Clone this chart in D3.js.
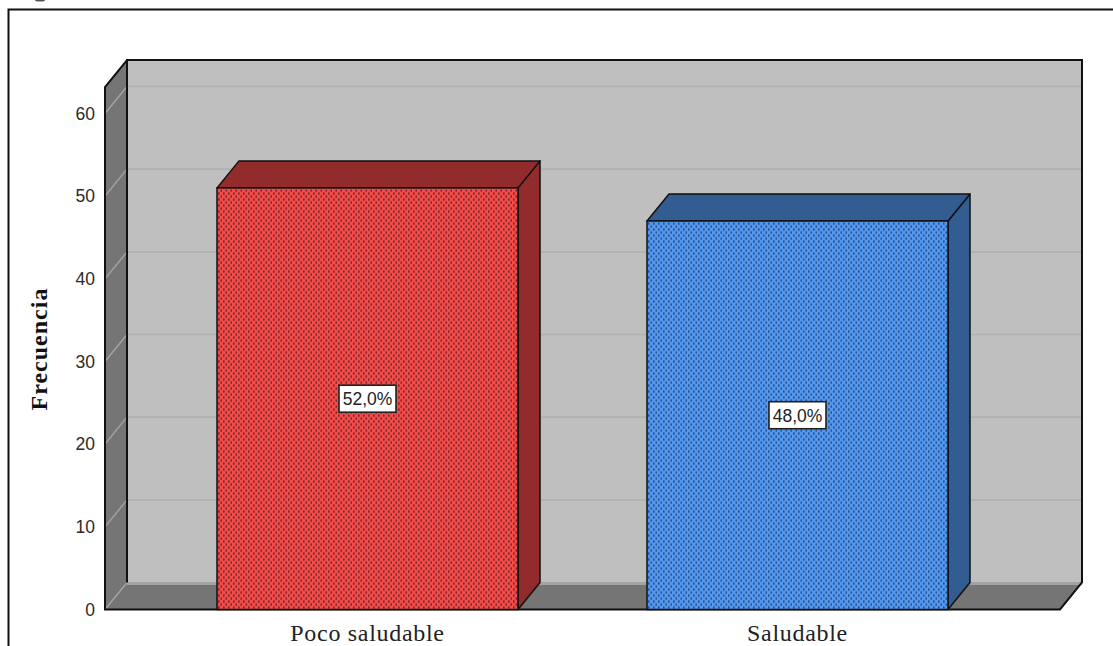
<!DOCTYPE html>
<html lang="es">
<head>
<meta charset="utf-8">
<title>Frecuencia</title>
<script src="https://cdn.jsdelivr.net/npm/d3@7/dist/d3.min.js"></script>
<style>
html,body{margin:0;padding:0;background:#fff;overflow:hidden}
svg{display:block}
</style>
</head>
<body>
<div id="chart"></div>
<script>
// Frequencies per category and the percentage printed on each bar
const categories = ["Poco saludable", "Saludable"];
const frequencies = [51, 47];
const percentLabels = ["52,0%", "48,0%"];
const barFills = ["#f54a4a", "#5298f0"];
const barDots = ["#7a2828", "#2a5288"];
const barSides = ["#922c2c", "#335c91"];
const yTicks = [0, 10, 20, 30, 40, 50, 60];
const yAxisTitle = "Frecuencia";

const W = 1113, H = 646;
const depthX = 22, depthY = -27;
const x0 = 105, x1 = 1060, yBase = 609.5, yTicksTop = 113.5, wallTopValue = 63.2;

const svg = d3.select("#chart").append("svg").attr("width", W).attr("height", H);

const y = d3.scaleLinear().domain([0, 60]).range([yBase, yTicksTop]);
const x = d3.scaleBand().domain(categories).range([x0, x1]).paddingInner(0.3).paddingOuter(0.2605);
const pts = a => a.map(p => p.join(",")).join(" ");

// Stippled fills for the bar fronts
const defs = svg.append("defs");
categories.forEach((c, i) => {
  const p = defs.append("pattern").attr("id", "dots" + i).attr("patternUnits", "userSpaceOnUse")
    .attr("width", 5).attr("height", 6).attr("x", x(c));
  p.append("rect").attr("width", 5).attr("height", 6).attr("fill", barFills[i]);
  p.append("rect").attr("x", 1).attr("y", 0.4).attr("width", 1.6).attr("height", 2.3).attr("fill", barDots[i]);
  p.append("rect").attr("x", 3.5).attr("y", 3.4).attr("width", 1.5).attr("height", 2.3).attr("fill", barDots[i]);
});

// Foot of a glyph from the line above the frame, at the page edge
svg.append("ellipse").attr("cx", 40).attr("cy", 0).attr("rx", 5).attr("ry", 1.5).attr("fill", "#555");

// Outer frame, open on the right and at the bottom
svg.append("path").attr("d", `M8.5,${H}V9.5H${W}`).attr("fill", "none").attr("stroke", "#111").attr("stroke-width", 2);

const yTop = y(wallTopValue);

// Back wall, side wall and floor
svg.append("rect").attr("x", x0 + depthX).attr("y", yTop + depthY).attr("width", x1 - x0)
  .attr("height", yBase - yTop).attr("fill", "#bfbfbf");
svg.append("polygon").attr("fill", "#757575")
  .attr("points", pts([[x0, yTop], [x0 + depthX, yTop + depthY], [x0 + depthX, yBase + depthY], [x0, yBase]]));
svg.append("polygon").attr("fill", "#757575")
  .attr("points", pts([[x0, yBase], [x0 + depthX, yBase + depthY], [x1 + depthX, yBase + depthY], [x1, yBase]]));

// Gridlines run along the back wall and fold down the side wall
const gridTicks = yTicks.filter(t => t > 0);
svg.append("g").selectAll("line").data(gridTicks).join("line")
  .attr("x1", x0 + depthX).attr("x2", x1 + depthX)
  .attr("y1", d => y(d) + depthY).attr("y2", d => y(d) + depthY)
  .attr("stroke", "#b0b0b0").attr("stroke-width", 1.6);
svg.append("g").selectAll("line").data(yTicks).join("line")
  .attr("x1", x0).attr("x2", x0 + depthX)
  .attr("y1", d => y(d)).attr("y2", d => y(d) + depthY)
  .attr("stroke", "#a6a6a6").attr("stroke-width", 1.3);
svg.append("line").attr("x1", x0 + depthX).attr("x2", x1 + depthX)
  .attr("y1", yBase + depthY + 1).attr("y2", yBase + depthY + 1)
  .attr("stroke", "#a3a3a3").attr("stroke-width", 3);

// Box edges
const edge = "#111";
svg.append("path").attr("fill", "none").attr("stroke", edge).attr("stroke-width", 2)
  .attr("d", `M${x0 + depthX},${yBase + depthY}V${yTop + depthY}H${x1 + depthX}V${yBase + depthY}L${x1},${yBase}H${x0}V${yTop}L${x0 + depthX},${yTop + depthY}`);

// Bars: side face, top face, then the stippled front
const bars = svg.append("g").selectAll("g").data(categories).join("g");
bars.each(function (c, i) {
  const g = d3.select(this);
  const l = x(c), r = l + x.bandwidth(), t = y(frequencies[i]);
  g.append("polygon").attr("fill", barSides[i]).attr("stroke", "#111").attr("stroke-width", 1.5)
    .attr("stroke-linejoin", "round")
    .attr("points", pts([[r, t], [r + depthX, t + depthY], [r + depthX, yBase + depthY], [r, yBase]]));
  g.append("polygon").attr("fill", barSides[i]).attr("stroke", "#111").attr("stroke-width", 1.5)
    .attr("stroke-linejoin", "round")
    .attr("points", pts([[l, t], [l + depthX, t + depthY], [r + depthX, t + depthY], [r, t]]));
  g.append("rect").attr("x", l).attr("y", t).attr("width", x.bandwidth()).attr("height", yBase - t)
    .attr("fill", `url(#dots${i})`).attr("stroke", "#111").attr("stroke-width", 1.5);
});

// Percentage tags, centred halfway up each bar
const tagW = 57, tagH = 27;
const tags = svg.append("g").selectAll("g").data(categories).join("g")
  .attr("transform", (c, i) => `translate(${x(c) + x.bandwidth() / 2},${y(frequencies[i] / 2)})`);
tags.append("rect").attr("x", -tagW / 2).attr("y", -tagH / 2).attr("width", tagW).attr("height", tagH)
  .attr("fill", "#fff").attr("stroke", "#222").attr("stroke-width", 1.6);
tags.append("text").attr("text-anchor", "middle").attr("dy", "0.36em")
  .attr("font-family", "Liberation Sans").attr("font-size", 17.5).attr("fill", "#222")
  .text((c, i) => percentLabels[i]);

// Axes
const yAxis = d3.axisLeft(y).tickValues(yTicks).tickSize(0).tickPadding(10);
const gy = svg.append("g").attr("transform", `translate(${x0},0)`).call(yAxis);
gy.select(".domain").remove();
gy.selectAll("text").attr("font-family", "Liberation Sans").attr("font-size", 17.5).attr("fill", "#2a2a2a")
  .attr("dy", "0.33em");

const xAxis = d3.axisBottom(x).tickSize(0).tickPadding(14);
const gx = svg.append("g").attr("transform", `translate(0,${yBase})`).call(xAxis);
gx.select(".domain").remove();
gx.selectAll("text").attr("font-family", "Liberation Serif").attr("font-size", 24).attr("fill", "#222")
  .attr("letter-spacing", 0.7);

svg.append("text").attr("transform", "translate(47,349) rotate(-90)").attr("text-anchor", "middle")
  .attr("font-family", "Liberation Serif").attr("font-weight", "bold").attr("font-size", 24).attr("fill", "#111")
  .attr("letter-spacing", 1).text(yAxisTitle);
</script>
</body>
</html>
